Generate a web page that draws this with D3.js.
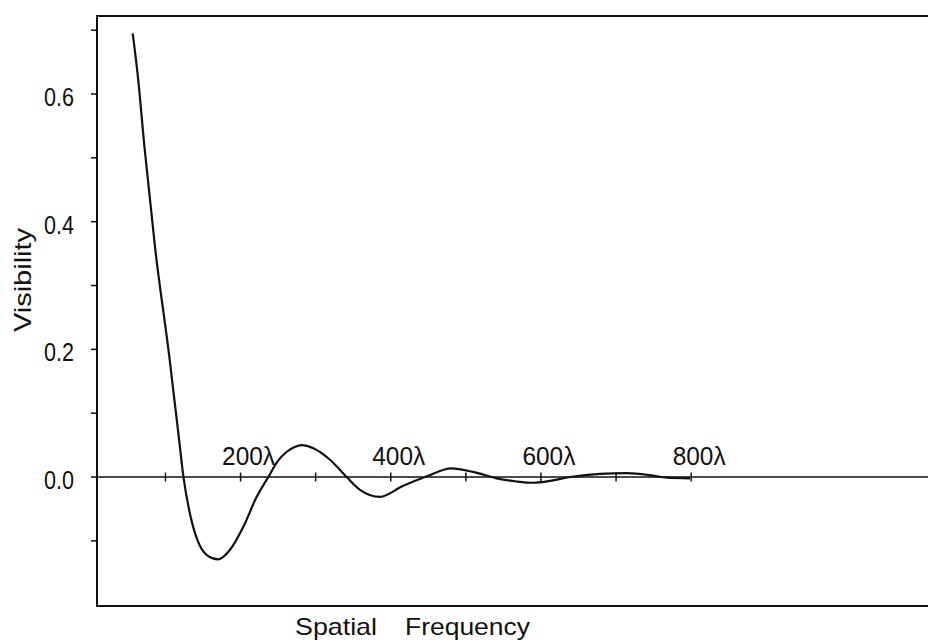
<!DOCTYPE html>
<html>
<head>
<meta charset="utf-8">
<script src="https://cdn.jsdelivr.net/npm/d3@7"></script>
<style>
  html, body { margin: 0; padding: 0; background: #fff; }
  svg { display: block; }
  text { font-family: "Liberation Sans", "DejaVu Sans", sans-serif; fill: #111; }
</style>
</head>
<body>
<svg id="chart" width="928" height="642"></svg>
<script>
// Spatial frequency (in wavelengths) and measured visibility
const frequency = [56.4, 63.5, 71.8, 86.4, 105, 118, 124,
  132.7, 143, 156, 170.4, 186, 203.7, 221.5, 237, 249, 262, 272, 281.4,
  296.9, 319.1, 341.3, 359, 385.7, 416, 445.6, 481.2, 509.5, 541, 567.7,
  589.4, 612, 638.6, 678.6, 714, 745, 768, 798.5];
const visibility = [0.695, 0.625, 0.52, 0.357, 0.19, 0.06, 0,
  -0.058, -0.100, -0.123, -0.129, -0.114, -0.078, -0.031, 0, 0.024, 0.040, 0.047, 0.050,
  0.045, 0.027, 0, -0.020, -0.031, -0.014, 0, 0.0136, 0.008, -0.002, -0.007,
  -0.009, -0.006, 0, 0.005, 0.006, 0.003, -0.001, -0.002];

const yMajorTicks = [0.0, 0.2, 0.4, 0.6];
const yMinorTicks = [-0.1, 0.1, 0.3, 0.5, 0.7];
const xTicks = [100, 200, 300, 400, 500, 600, 700, 800];
const xTickLabels = [200, 400, 600, 800];

(function draw() {
  const svg = d3.select("#chart");
  const frameLeft = 97, frameRight = 928, frameTop = 16, frameBottom = 606;

  const x = d3.scaleLinear().domain([0, 800]).range([90.35, 691.15]);
  const y = d3.scaleLinear().domain([-0.2, 0.6]).range([604.7, 94]);

  const ink = "#111";

  // Plot frame: left, top and bottom edges
  svg.append("path")
    .attr("d", `M${frameRight},${frameTop}H${frameLeft}V${frameBottom}H${frameRight}`)
    .attr("fill", "none").attr("stroke", ink).attr("stroke-width", 2);

  // Zero line across the plot
  svg.append("line")
    .attr("x1", frameLeft).attr("x2", frameRight)
    .attr("y1", y(0)).attr("y2", y(0))
    .attr("stroke", ink).attr("stroke-width", 1.6);

  // Y axis ticks (outside) and labels
  const yTicks = yMajorTicks.concat(yMinorTicks);
  svg.selectAll(".ytick").data(yTicks).join("line")
    .attr("class", "ytick")
    .attr("x1", frameLeft - 6).attr("x2", frameLeft)
    .attr("y1", d => y(d)).attr("y2", d => y(d))
    .attr("stroke", ink).attr("stroke-width", 1.5);

  svg.selectAll(".ylab").data(yMajorTicks).join("text")
    .attr("class", "ylab")
    .attr("x", 74).attr("y", d => y(d) + 12)
    .attr("text-anchor", "end")
    .attr("font-size", 26)
    .attr("textLength", 30).attr("lengthAdjust", "spacingAndGlyphs")
    .text(d => d.toFixed(1));

  // X ticks crossing the zero line
  svg.selectAll(".xtick").data(xTicks).join("line")
    .attr("class", "xtick")
    .attr("x1", d => x(d)).attr("x2", d => x(d))
    .attr("y1", y(0) - 4.5).attr("y2", y(0) + 4.5)
    .attr("stroke", ink).attr("stroke-width", 1.5);

  svg.selectAll(".xlab").data(xTickLabels).join("text")
    .attr("class", "xlab")
    .attr("x", d => x(d) - 18.5).attr("y", y(0) - 12)
    .attr("font-size", 25)
    .attr("textLength", 53).attr("lengthAdjust", "spacingAndGlyphs")
    .text(d => d + "λ");

  // Axis titles
  svg.append("text")
    .attr("transform", "translate(31,332) rotate(-90)")
    .attr("font-size", 24)
    .attr("textLength", 104).attr("lengthAdjust", "spacingAndGlyphs")
    .text("Visibility");

  svg.append("text")
    .attr("x", 295).attr("y", 635)
    .attr("font-size", 24)
    .attr("textLength", 82).attr("lengthAdjust", "spacingAndGlyphs")
    .text("Spatial");
  svg.append("text")
    .attr("x", 405).attr("y", 635)
    .attr("font-size", 24)
    .attr("textLength", 125).attr("lengthAdjust", "spacingAndGlyphs")
    .text("Frequency");

  // Visibility curve
  const pts = frequency.map((f, i) => [f, visibility[i]]);
  const line = d3.line()
    .x(d => x(d[0])).y(d => y(d[1]))
    .curve(d3.curveMonotoneX);

  svg.append("path")
    .datum(pts)
    .attr("d", line)
    .attr("fill", "none")
    .attr("stroke", ink)
    .attr("stroke-width", 2.2)
    .attr("stroke-linejoin", "round");
})();
</script>
</body>
</html>
